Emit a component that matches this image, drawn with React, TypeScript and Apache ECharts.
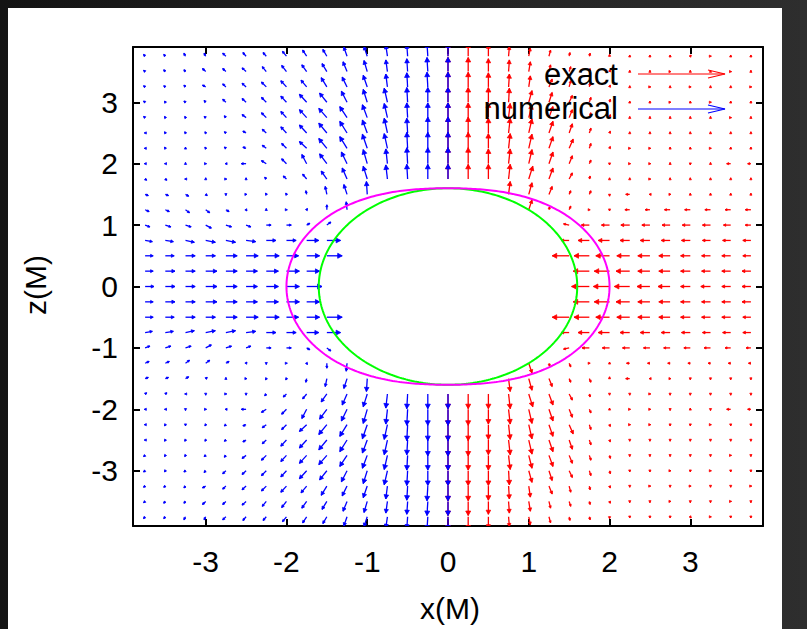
import React, { useEffect, useRef } from "react";
import * as echarts from "echarts";

// Grid of sample points (units of M)
const xNumerical = [-3.75, -3.5, -3.25, -3, -2.75, -2.5, -2.25, -2, -1.75, -1.5, -1.25, -1, -0.75, -0.5, -0.25, 0];
const xExact = [0, 0.25, 0.5, 0.75, 1, 1.25, 1.5, 1.75, 2, 2.25, 2.5, 2.75, 3, 3.25, 3.5, 3.75];
const zNorth = [3.75, 3.5, 3.25, 3, 2.75, 2.5, 2.25, 2, 1.75, 1.5, 1.25, 1, 0.75, 0.5, 0.25, 0];
const zSouth = [-0.25, -0.5, -0.75, -1, -1.25, -1.5, -1.75, -2, -2.25, -2.5, -2.75, -3, -3.25, -3.5, -3.75];

// Vector components [dx, dz] in hundredths of M; _ marks points inside the horizon
const VECTOR_UNIT = 0.01;
const _ = null;
type Vec = [number, number] | null;

const numericalNorth: Vec[][] = [
  [[-2,3],[-2,3],[-2,5],[-2,5],[-4,5],[-4,6],[-4,6],[-5,8],[-5,10],[-5,11],[-4,15],[-4,16],[-2,18],[-1,19],[-1,21],[0,21]],
  [[-2,2],[-2,3],[-2,3],[-4,5],[-4,5],[-5,6],[-5,8],[-6,10],[-6,11],[-6,13],[-5,16],[-4,18],[-2,19],[-1,21],[-1,23],[0,23]],
  [[-2,2],[-2,2],[-2,3],[-4,3],[-4,5],[-5,6],[-6,8],[-7,10],[-7,11],[-7,15],[-6,16],[-5,19],[-2,21],[-1,23],[-1,24],[0,24]],
  [[-2,2],[-1,2],[-2,2],[-2,3],[-4,5],[-5,6],[-6,8],[-7,10],[-9,13],[-9,15],[-7,18],[-5,21],[-4,23],[-1,24],[0,24],[0,24]],
  [[-2,2],[-1,2],[-1,2],[-2,2],[-2,3],[-5,5],[-6,8],[-7,10],[-9,13],[-10,15],[-9,18],[-6,21],[-4,23],[-1,24],[0,24],[0,24]],
  [[-1,0],[-1,2],[-1,2],[-1,2],[-2,2],[-4,3],[-5,6],[-7,10],[-9,13],[-10,16],[-9,19],[-6,21],[-4,24],[-1,24],[0,26],[0,26]],
  [[-1,0],[-1,2],[0,2],[-1,2],[-2,2],[-4,2],[-5,5],[-6,8],[-9,11],[-10,16],[-9,19],[-6,23],[-4,24],[-1,26],[0,26],[0,26]],
  [[-1,0],[-1,0],[0,2],[1,0],[-1,0],[-6,0],[-6,5],[-6,8],[-6,15],[-9,16],[-7,19],[-5,23],[-2,24],[-1,26],[0,26],[0,26]],
  [[2,-2],[2,-2],[-1,0],[0,2],[1,0],[0,2],[-2,3],[-4,5],[-5,8],[-7,13],[-6,18],[-5,21],[-2,23],[-1,24],[0,24],[0,24]],
  [[4,-2],[4,-2],[4,-3],[2,-2],[0,-2],[1,0],[-1,2],[-1,2],[-1,6],[-2,13],[-4,16],[-1,21],_,_,_,_],
  [[5,-3],[5,-3],[5,-5],[5,-5],[4,-3],[1,-2],[0,2],[1,0],[1,2],[0,8],[-1,13],_,_,_,_,_],
  [[6,-3],[7,-3],[7,-3],[7,-5],[7,-3],[6,-3],[6,0],[6,0],[4,3],[5,5],_,_,_,_,_,_],
  [[9,-2],[10,-2],[11,-3],[12,-3],[12,-3],[12,-2],[12,0],[12,0],[15,0],[17,0],_,_,_,_,_,_],
  [[10,0],[11,0],[12,0],[12,0],[14,0],[15,0],[16,0],[15,0],[16,0],[19,0],_,_,_,_,_,_],
  [[10,0],[12,0],[12,0],[14,0],[14,0],[14,0],[15,0],[16,0],[16,0],_,_,_,_,_,_,_],
  [[11,0],[12,0],[12,0],[14,0],[14,0],[14,0],[15,0],[16,0],[19,0],_,_,_,_,_,_,_],
];

const numericalSouth: Vec[][] = [
  [[10,0],[12,0],[12,0],[14,0],[14,0],[14,0],[15,0],[16,0],[16,0],_,_,_,_,_,_,_],
  [[10,0],[11,0],[12,0],[12,0],[14,0],[15,0],[16,0],[15,0],[16,0],[19,0],_,_,_,_,_,_],
  [[9,2],[10,2],[11,3],[12,3],[12,3],[12,2],[12,0],[12,0],[15,0],[17,0],_,_,_,_,_,_],
  [[6,3],[7,3],[7,3],[7,5],[7,3],[6,3],[6,0],[6,0],[4,-3],[5,-5],_,_,_,_,_,_],
  [[5,3],[5,3],[5,5],[5,5],[4,3],[1,2],[0,-2],[1,0],[1,-2],[0,-8],[-1,-13],_,_,_,_,_],
  [[4,2],[4,2],[4,3],[2,2],[0,2],[1,0],[-1,-2],[-1,-2],[-1,-6],[-2,-13],[-4,-16],[-1,-21],_,_,_,_],
  [[2,2],[2,2],[-1,0],[0,-2],[1,0],[0,-2],[-2,-3],[-4,-5],[-5,-8],[-7,-13],[-6,-18],[-5,-21],[-2,-23],[-1,-24],[0,-24],[0,-24]],
  [[-1,0],[-1,0],[0,-2],[1,0],[-1,0],[-6,0],[-6,-5],[-6,-8],[-6,-15],[-9,-16],[-7,-19],[-5,-23],[-2,-24],[-1,-26],[0,-26],[0,-26]],
  [[-1,0],[-1,-2],[0,-2],[-1,-2],[-2,-2],[-4,-2],[-5,-5],[-6,-8],[-9,-11],[-10,-16],[-9,-19],[-6,-23],[-4,-24],[-1,-26],[0,-26],[0,-26]],
  [[-1,0],[-1,-2],[-1,-2],[-1,-2],[-2,-2],[-4,-3],[-5,-6],[-7,-10],[-9,-13],[-10,-16],[-9,-19],[-6,-21],[-4,-24],[-1,-24],[0,-26],[0,-26]],
  [[-2,-2],[-1,-2],[-1,-2],[-2,-2],[-2,-3],[-5,-5],[-6,-8],[-7,-10],[-9,-13],[-10,-15],[-9,-18],[-6,-21],[-4,-23],[-1,-24],[0,-24],[0,-24]],
  [[-2,-2],[-1,-2],[-2,-2],[-2,-3],[-4,-5],[-5,-6],[-6,-8],[-7,-10],[-9,-13],[-9,-15],[-7,-18],[-5,-21],[-4,-23],[-1,-24],[0,-24],[0,-24]],
  [[-2,-2],[-2,-2],[-2,-3],[-4,-3],[-4,-5],[-5,-6],[-6,-8],[-7,-10],[-7,-11],[-7,-15],[-6,-16],[-5,-19],[-2,-21],[-1,-23],[-1,-24],[0,-24]],
  [[-2,-2],[-2,-3],[-2,-3],[-4,-5],[-4,-5],[-5,-6],[-5,-8],[-6,-10],[-6,-11],[-6,-13],[-5,-16],[-4,-18],[-2,-19],[-1,-21],[-1,-23],[0,-23]],
  [[-2,-3],[-2,-3],[-2,-5],[-2,-5],[-4,-5],[-4,-6],[-4,-6],[-5,-8],[-5,-10],[-5,-11],[-4,-15],[-4,-16],[-2,-18],[-1,-19],[-1,-21],[0,-21]],
];

const exactNorth: Vec[][] = [
  [[0,21],[0,21],[0,19],[1,16],[2,13],[2,10],[1,6],[1,5],[0,3],[0,2],[0,2],[0,2],[1,2],[1,0],[0,2],[0,2]],
  [[0,23],[0,23],[0,21],[1,19],[2,16],[2,11],[2,8],[1,5],[1,3],[0,2],[0,2],[1,0],[0,2],[0,2],[1,0],[0,2]],
  [[0,24],[0,24],[0,23],[1,21],[2,18],[4,13],[2,10],[1,6],[1,3],[0,2],[1,0],[0,2],[1,0],[0,2],[0,2],[1,0]],
  [[0,24],[0,24],[0,24],[1,23],[4,19],[4,16],[4,11],[2,8],[1,5],[0,2],[0,2],[1,0],[0,2],[1,0],[0,2],[0,2]],
  [[0,24],[0,24],[0,24],[2,23],[4,21],[5,18],[4,13],[2,8],[1,5],[0,2],[0,2],[0,2],[0,2],[0,2],[1,0],[0,2]],
  [[0,26],[0,26],[0,24],[2,24],[4,23],[5,19],[4,15],[2,8],[1,3],[0,2],[0,2],[0,2],[0,2],[0,2],[0,2],[0,2]],
  [[0,26],[0,26],[0,24],[2,24],[4,23],[5,19],[5,15],[2,8],[1,3],[1,0],[1,0],[0,2],[0,2],[1,0],[0,2],[0,2]],
  [[0,26],[0,26],[0,24],[2,24],[4,23],[5,19],[4,13],[2,6],[0,-2],[1,0],[1,0],[0,2],[0,-2],[0,2],[-5,0],[-4,0]],
  [[0,24],[0,24],[0,24],[2,24],[5,21],[5,18],[4,10],[1,5],[0,2],[0,2],[1,0],[0,2],[0,2],[0,2],[0,2],[0,2]],
  [_,_,_,[2,21],[4,19],[4,13],[2,6],[2,6],[0,-3],[-5,0],[-1,0],[1,0],[0,2],[0,2],[0,2],[0,2]],
  [_,_,_,_,[4,16],[1,5],[2,6],[1,0],[0,-2],[-6,0],[-6,0],[-7,0],[-7,0],[-7,0],[-7,0],[-7,0]],
  [_,_,_,_,_,_,[-7,2],[-10,0],[-10,0],[-11,0],[-10,0],[-10,0],[-10,0],[-10,0],[-9,0],[-7,0]],
  [_,_,_,_,_,_,[-10,0],[-14,0],[-14,0],[-12,0],[-12,0],[-11,0],[-11,0],[-10,0],[-10,0],[-10,0]],
  [_,_,_,_,_,_,[-21,0],[-19,0],[-17,0],[-16,0],[-15,0],[-14,0],[-12,0],[-11,0],[-11,0],[-10,0]],
  [_,_,_,_,_,_,_,[-20,0],[-19,0],[-17,0],[-15,0],[-14,0],[-12,0],[-11,0],[-11,0],[-11,0]],
  [_,_,_,_,_,_,_,[-22,0],[-20,0],[-19,0],[-16,0],[-15,0],[-12,0],[-12,0],[-11,0],[-11,0]],
];

const exactSouth: Vec[][] = [
  [_,_,_,_,_,_,_,[-20,0],[-19,0],[-17,0],[-15,0],[-14,0],[-12,0],[-11,0],[-11,0],[-11,0]],
  [_,_,_,_,_,_,[-21,0],[-19,0],[-17,0],[-16,0],[-15,0],[-14,0],[-12,0],[-11,0],[-11,0],[-10,0]],
  [_,_,_,_,_,_,[-10,0],[-14,0],[-14,0],[-12,0],[-12,0],[-11,0],[-11,0],[-10,0],[-10,0],[-10,0]],
  [_,_,_,_,_,_,[-7,-2],[-9,0],[-9,0],[-9,0],[-8,0],[-8,0],[-8,0],[-8,0],[-7,0],[-6,0]],
  [_,_,_,_,[4,-16],[1,-5],[2,-6],[1,0],[0,2],[-4,0],[-3,0],[-3,0],[-3,0],[-3,0],[-3,0],[-3,0]],
  [_,_,_,[2,-21],[4,-19],[4,-13],[2,-6],[2,-6],[0,3],[-5,0],[-1,0],[1,0],[0,-2],[0,-2],[0,-2],[0,-2]],
  [[0,-24],[0,-24],[0,-24],[2,-24],[5,-21],[5,-18],[4,-10],[1,-5],[0,-2],[0,-2],[1,0],[0,-2],[0,-2],[0,-2],[0,-2],[0,-2]],
  [[0,-26],[0,-26],[0,-24],[2,-24],[4,-23],[5,-19],[4,-13],[2,-6],[0,2],[1,0],[1,0],[0,-2],[0,2],[0,-2],[-5,0],[-4,0]],
  [[0,-26],[0,-26],[0,-24],[2,-24],[4,-23],[5,-19],[5,-15],[2,-8],[1,-3],[1,0],[1,0],[0,-2],[0,-2],[1,0],[0,-2],[0,-2]],
  [[0,-26],[0,-26],[0,-24],[2,-24],[4,-23],[5,-19],[4,-15],[2,-8],[1,-3],[0,-2],[0,-2],[0,-2],[0,-2],[0,-2],[0,-2],[0,-2]],
  [[0,-24],[0,-24],[0,-24],[2,-23],[4,-21],[5,-18],[4,-13],[2,-8],[1,-5],[0,-2],[0,-2],[0,-2],[0,-2],[0,-2],[1,0],[0,-2]],
  [[0,-24],[0,-24],[0,-24],[1,-23],[4,-19],[4,-16],[4,-11],[2,-8],[1,-5],[0,-2],[0,-2],[1,0],[0,-2],[1,0],[0,-2],[0,-2]],
  [[0,-24],[0,-24],[0,-23],[1,-21],[2,-18],[4,-13],[2,-10],[1,-6],[1,-3],[0,-2],[1,0],[0,-2],[1,0],[0,-2],[0,-2],[1,0]],
  [[0,-23],[0,-23],[0,-21],[1,-19],[2,-16],[2,-11],[2,-8],[1,-5],[1,-3],[0,-2],[0,-2],[1,0],[0,-2],[0,-2],[1,0],[0,-2]],
  [[0,-21],[0,-21],[0,-19],[1,-16],[2,-13],[2,-10],[1,-6],[1,-5],[0,-3],[0,-2],[0,-2],[0,-2],[1,-2],[1,0],[0,-2],[0,-2]],
];

// Axis ticks
const xTicks = [-3, -2, -1, 0, 1, 2, 3];
const zTicks = [-3, -2, -1, 0, 1, 2, 3];
const AXIS_MIN = -3.9;
const AXIS_MAX = 3.9;

// Kerr black hole, M = 1, spin a/M
const MASS = 1;
const SPIN = 0.8;

const FONT = '"Liberation Sans", Arial, Helvetica, sans-serif';
const RED = "#ff0000";
const BLUE = "#0000ff";

function fieldData(xs: number[], north: Vec[][], south: Vec[][]) {
  const out: number[][] = [];
  const add = (zs: number[], rows: Vec[][]) =>
    rows.forEach((row, i) =>
      row.forEach((v, j) => {
        if (v) out.push([xs[j], zs[i], v[0] * VECTOR_UNIT, v[1] * VECTOR_UNIT]);
      })
    );
  add(zNorth, north);
  add(zSouth, south);
  return out;
}

// Horizon r+ and ergosurface r_E(theta) in the x-z plane
function surface(radius: (theta: number) => number) {
  const pts: number[][] = [];
  for (let k = 0; k <= 360; k++) {
    const t = (k / 360) * 2 * Math.PI;
    const r = radius(t);
    pts.push([r * Math.sin(t), r * Math.cos(t)]);
  }
  return pts;
}
const horizon = surface(() => MASS + Math.sqrt(MASS * MASS - SPIN * SPIN));
const ergosphere = surface((t) => MASS + Math.sqrt(MASS * MASS - SPIN * SPIN * Math.cos(t) ** 2));

function arrowRenderer(color: string) {
  return (_params: any, api: any) => {
    const x = api.value(0);
    const z = api.value(1);
    const p0 = api.coord([x, z]);
    const p1 = api.coord([x + api.value(2), z + api.value(3)]);
    const vx = p1[0] - p0[0];
    const vy = p1[1] - p0[1];
    const len = Math.hypot(vx, vy);
    if (len < 0.2) return { type: "group", children: [] };
    const ux = vx / len;
    const uy = vy / len;
    const hl = Math.min(4.5, Math.max(2, len * 0.32));
    const hw = hl * 0.55;
    const bx = p1[0] - ux * hl;
    const by = p1[1] - uy * hl;
    return {
      type: "group",
      children: [
        {
          type: "line",
          shape: { x1: p0[0], y1: p0[1], x2: p1[0], y2: p1[1] },
          style: { stroke: color, lineWidth: 1.3 },
        },
        {
          type: "polygon",
          shape: { points: [[p1[0], p1[1]], [bx - uy * hw, by + ux * hw], [bx + uy * hw, by - ux * hw]] },
          style: { fill: color, stroke: color, lineWidth: 0.8 },
        },
      ],
    };
  };
}

function valueAxis(position: string, withLabels: boolean, ticks: number[]) {
  return {
    type: "value",
    min: AXIS_MIN,
    max: AXIS_MAX,
    position,
    axisLine: { show: true, onZero: false, lineStyle: { color: "#000", width: 2 } },
    axisTick: { show: true, inside: true, length: 7, customValues: ticks, lineStyle: { color: "#000", width: 2 } },
    axisLabel: withLabels
      ? {
          show: true,
          customValues: ticks,
          fontSize: 30,
          fontFamily: FONT,
          color: "#000",
          margin: position === "bottom" ? 20 : 15,
          formatter: (v: number) => String(v),
        }
      : { show: false },
    splitLine: { show: false },
  };
}

export default function App() {
  const ref = useRef<HTMLDivElement>(null);

  useEffect(() => {
    if (!ref.current) return;
    const chart = echarts.init(ref.current, undefined, { renderer: "svg" });
    const legendText = (text: string, y: number) => ({
      type: "text",
      x: 610,
      y,
      style: { text, fill: "#000", font: `31px ${FONT}`, textAlign: "right", textVerticalAlign: "middle" },
      z: 10,
    });
    const legendArrow = (color: string, y: number) => [
      { type: "line", shape: { x1: 630, y1: y, x2: 717, y2: y }, style: { stroke: color, lineWidth: 1.2 }, z: 10 },
      {
        type: "polyline",
        shape: { points: [[700, y - 4], [717, y], [700, y + 4]] },
        style: { stroke: color, lineWidth: 1.2, fill: null },
        z: 10,
      },
    ];
    chart.setOption({
      animation: false,
      backgroundColor: "#ffffff",
      grid: { left: 125, top: 39, width: 630, height: 479, containLabel: false },
      xAxis: [valueAxis("bottom", true, xTicks), valueAxis("top", false, xTicks)],
      yAxis: [valueAxis("left", true, zTicks), valueAxis("right", false, zTicks)],
      series: [
        {
          name: "exact",
          type: "custom",
          xAxisIndex: 0,
          yAxisIndex: 0,
          clip: true,
          encode: { x: 0, y: 1 },
          data: fieldData(xExact, exactNorth, exactSouth),
          renderItem: arrowRenderer(RED),
          silent: true,
          z: 2,
        },
        {
          name: "numerical",
          type: "custom",
          xAxisIndex: 0,
          yAxisIndex: 0,
          clip: true,
          encode: { x: 0, y: 1 },
          data: fieldData(xNumerical, numericalNorth, numericalSouth),
          renderItem: arrowRenderer(BLUE),
          silent: true,
          z: 3,
        },
        {
          name: "horizon",
          type: "line",
          data: horizon,
          showSymbol: false,
          silent: true,
          lineStyle: { color: "#00ff00", width: 2 },
          z: 4,
        },
        {
          name: "ergosphere",
          type: "line",
          data: ergosphere,
          showSymbol: false,
          silent: true,
          lineStyle: { color: "#ff00ff", width: 2 },
          z: 5,
        },
      ],
      graphic: [
        legendText("exact", 66),
        ...legendArrow(RED, 66),
        legendText("numerical", 100),
        ...legendArrow(BLUE, 101),
        {
          type: "text",
          x: 442,
          y: 600,
          style: { text: "x(M)", fill: "#000", font: `30px ${FONT}`, textAlign: "center", textVerticalAlign: "middle" },
        },
        {
          type: "text",
          x: 27,
          y: 277,
          rotation: Math.PI / 2,
          style: { text: "z(M)", fill: "#000", font: `30px ${FONT}`, textAlign: "center", textVerticalAlign: "middle" },
        },
      ],
    });
    return () => chart.dispose();
  }, []);

  return (
    <div
      style={{
        position: "fixed",
        left: 0,
        top: 0,
        width: 807,
        height: 629,
        background: "linear-gradient(90deg, #141414 0%, #222222 50%, #2e2e2e 100%)",
      }}
    >
      <div
        ref={ref}
        style={{ position: "absolute", left: 8, top: 8, width: 774, height: 621, background: "#ffffff" }}
      />
    </div>
  );
}
